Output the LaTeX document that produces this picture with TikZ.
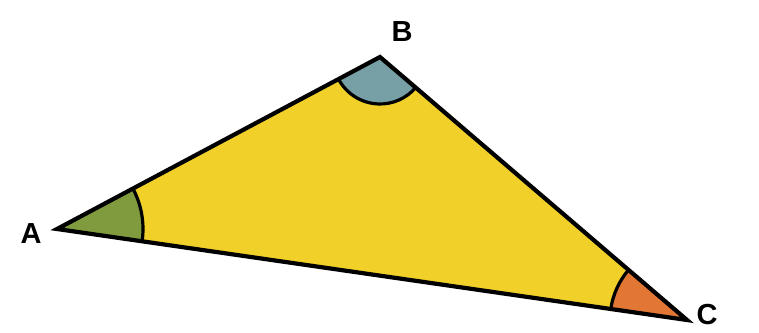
\documentclass[tikz,border=0pt]{standalone}
\usepackage{fontspec}
\setmainfont{Liberation Sans}
\definecolor{triyellow}{RGB}{242,208,42}
\definecolor{angA}{RGB}{128,155,62}
\definecolor{angB}{RGB}{118,160,165}
\definecolor{angC}{RGB}{226,118,52}
\tikzset{
  edge/.style={line width=4.2pt, line join=miter, line cap=round},
  arcline/.style={line width=3.2pt},
  vlabel/.style={font=\fontsize{29}{29}\selectfont\bfseries, inner sep=0pt}
}
\begin{document}
\begin{tikzpicture}[x=1pt,y=1pt]
\useasboundingbox (0,0) rectangle (759,332);
\coordinate (A) at (57,103);
\coordinate (B) at (380,275);
\coordinate (C) at (687,12);
% fill
\fill[triyellow] (A) -- (B) -- (C) -- cycle;
% angle sectors
\fill[angA] (A) -- ++(-8.22:86) arc[start angle=-8.22, end angle=28.03, radius=86] -- cycle;
\fill[angB] (B) -- ++(208.03:47) arc[start angle=208.03, end angle=319.41, radius=47] -- cycle;
\fill[angC] (C) -- ++(139.41:77) arc[start angle=139.41, end angle=171.78, radius=77] -- cycle;
\draw[arcline] (A) ++(-8.22:86) arc[start angle=-8.22, end angle=28.03, radius=86];
\draw[arcline] (B) ++(208.03:47) arc[start angle=208.03, end angle=319.41, radius=47];
\draw[arcline] (C) ++(139.41:77) arc[start angle=139.41, end angle=171.78, radius=77];
% edges
\draw[edge] (A) -- (B) -- (C) -- cycle;
% labels
\node[vlabel] (la) at (31,98) {A};
\node[vlabel] (lb) at (402,300) {B};
\node[vlabel] (lc) at (707,17) {C};
\end{tikzpicture}
\end{document}
